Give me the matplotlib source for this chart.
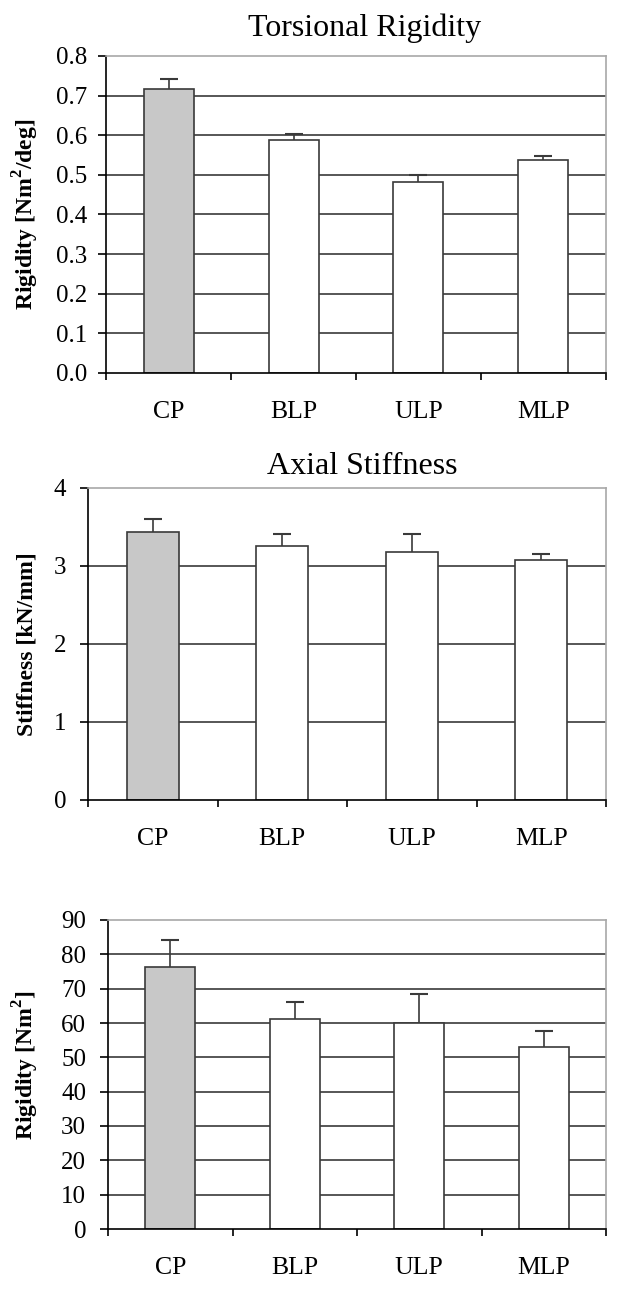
import matplotlib
matplotlib.use("Agg")
import matplotlib.pyplot as plt
import numpy as np

plt.rcParams['font.family'] = ['Liberation Serif', 'DejaVu Serif']
plt.rcParams['mathtext.fontset'] = 'custom'
plt.rcParams['mathtext.rm'] = 'Liberation Serif'
plt.rcParams['mathtext.bf'] = 'Liberation Serif:bold'

categories = ["CP", "BLP", "ULP", "MLP"]

torsion_vals = [0.717, 0.587, 0.482, 0.537]
torsion_err = [0.024, 0.016, 0.017, 0.011]
torsion_ticks = [0.0, 0.1, 0.2, 0.3, 0.4, 0.5, 0.6, 0.7, 0.8]

axial_vals = [3.43, 3.26, 3.185, 3.08]
axial_err = [0.175, 0.15, 0.225, 0.075]
axial_ticks = [0, 1, 2, 3, 4]

bend_vals = [76.2, 61.1, 60.0, 53.1]
bend_err = [8.0, 4.9, 8.4, 4.6]
bend_ticks = [0, 10, 20, 30, 40, 50, 60, 70, 80, 90]

W, H = 620, 1294
fig = plt.figure(figsize=(W / 100, H / 100), dpi=100)

def px_axes(left, right, top, bottom):
    return fig.add_axes([left / W, 1 - bottom / H, (right - left) / W, (bottom - top) / H])

bar_colors = ["#c8c8c8", "white", "white", "white"]
dark = "#3a3a3a"

def panel(ax, vals, errs, ticks, fmt, ylabel, label_x, label_y, ypad):
    x = np.arange(len(categories))
    ax.set_xlim(-0.5, len(categories) - 0.5)
    ax.set_ylim(ticks[0], ticks[-1])
    ax.set_yticks(ticks)
    ax.set_yticklabels([fmt.format(t) for t in ticks])
    ax.set_axisbelow(True)
    ax.yaxis.grid(True, color=dark, lw=1.2)
    grid = ax.get_ygridlines()
    grid[0].set_visible(False)
    grid[-1].set_visible(False)
    ax.bar(x, vals, width=0.4, color=bar_colors, edgecolor=dark, linewidth=1.2, zorder=2)
    cont = ax.errorbar(x, vals, yerr=[np.zeros(len(vals)), errs], fmt='none', ecolor=dark,
                       elinewidth=1.2, capsize=6.5, capthick=1.5, zorder=3)
    caps = cont[1]
    if len(caps) >= 2:
        caps[0].set_visible(False)
    ax.set_xticks(x)
    ax.set_xticklabels(categories)
    ax.set_xticks(np.arange(-0.5, len(categories)), minor=True)
    ax.tick_params(axis='x', which='major', length=0, pad=20, labelsize=18.5)
    ax.tick_params(axis='x', which='minor', length=5.3, width=1.2, direction='out', color='black')
    ax.tick_params(axis='y', length=5.8, width=1.2, direction='out', pad=ypad, labelsize=18)
    for s in ['left', 'bottom']:
        ax.spines[s].set_color('black')
        ax.spines[s].set_linewidth(1.2)
    for s in ['top', 'right']:
        ax.spines[s].set_color('#a8a8a8')
        ax.spines[s].set_linewidth(1.2)
    ax.set_ylabel(ylabel, fontsize=17, fontweight='bold')
    ax.yaxis.set_label_coords(label_x, label_y)

ax1 = px_axes(106, 606, 56, 373)
panel(ax1, torsion_vals, torsion_err, torsion_ticks, "{:.1f}",
      r"Rigidity [Nm$^{\mathbf{2}}$/deg]", -0.13, 0.5, 8)
fig.text(365 / W, 1 - 36 / H, "Torsional Rigidity", ha='center', va='baseline', fontsize=23)

ax2 = px_axes(88, 606, 488, 800)
panel(ax2, axial_vals, axial_err, axial_ticks, "{:d}", "Stiffness [kN/mm]", -0.098, 0.5, 10)
fig.text(362 / W, 1 - 474 / H, "Axial Stiffness", ha='center', va='baseline', fontsize=23)

ax3 = px_axes(108, 606, 920, 1229)
panel(ax3, bend_vals, bend_err, bend_ticks, "{:d}",
      r"Rigidity [Nm$^{\mathbf{2}}$]", -0.134, 0.53, 10)

fig.savefig("out.png", dpi=100)
